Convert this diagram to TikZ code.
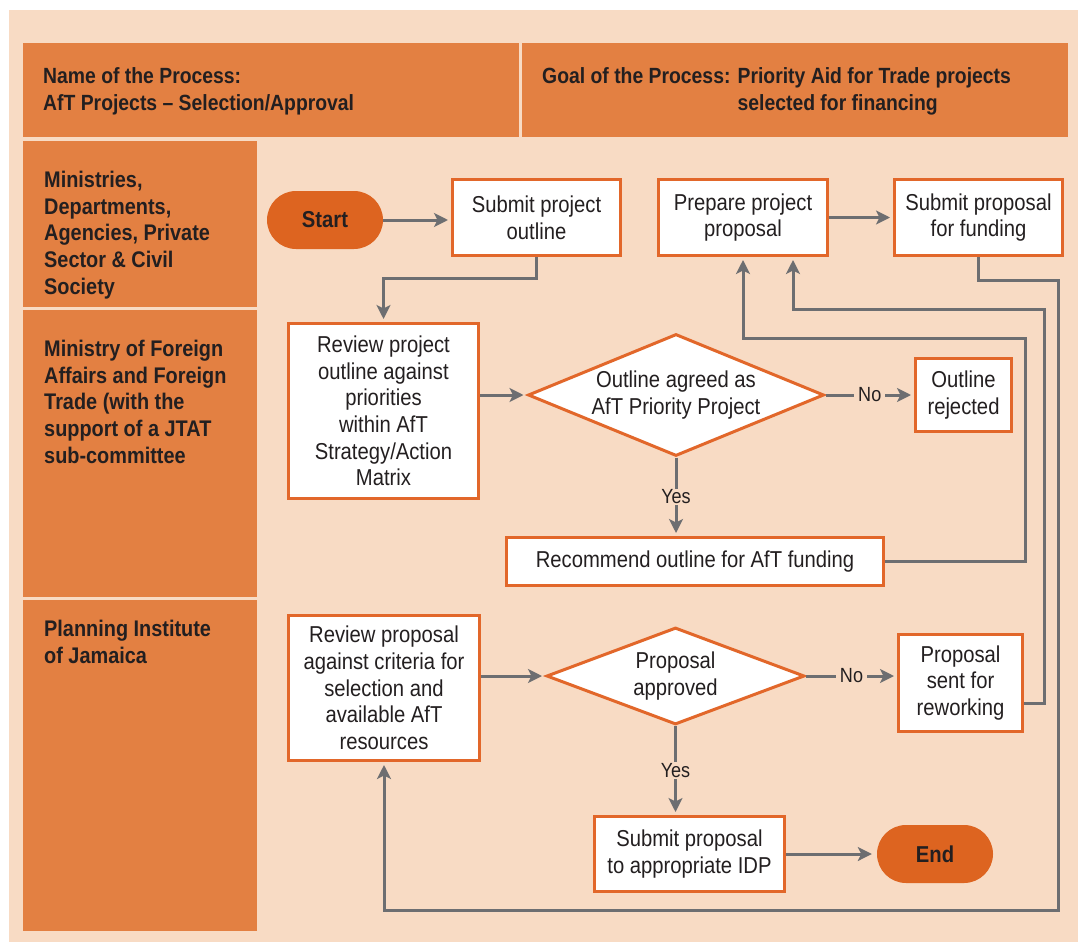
\documentclass[tikz,border=0pt]{standalone}
\usepackage{fontspec}
\setmainfont{Liberation Sans}[FakeStretch=0.88]
\usetikzlibrary{arrows.meta,shapes.geometric,calc}
\definecolor{peach}{HTML}{F8DBC4}
\definecolor{laneorange}{HTML}{E38042}
\definecolor{pillorange}{HTML}{DD6420}
\definecolor{border}{HTML}{E2672A}
\definecolor{linegray}{HTML}{6D6E71}
\definecolor{txt}{HTML}{231F20}
\begin{document}
\begin{tikzpicture}[x=1pt,y=-1pt,
  lane/.style={fill=laneorange, draw=none},
  head/.style={font=\bfseries\fontsize{22}{27}\selectfont, text=txt, align=left, inner sep=0pt},
  lanetext/.style={font=\bfseries\fontsize{22.6}{26.7}\selectfont, text=txt, align=left, inner sep=0pt},
  box/.style={draw=border, line width=3pt, fill=white, align=center, inner sep=0pt,
    font=\fontsize{23}{26.7}\selectfont, text=txt},
  dia/.style={diamond, draw=border, line width=3pt, fill=white, align=center, inner sep=0pt,
    font=\fontsize{23}{26.7}\selectfont, text=txt},
  pill/.style={fill=pillorange, draw=none, rounded corners=29pt, minimum width=116pt,
    minimum height=58pt, font=\bfseries\fontsize{23}{27}\selectfont, text=txt},
  arr/.style={draw=linegray, line width=3pt,
    -{Stealth[length=14pt,width=14pt,inset=3.5pt]}, shorten >=3pt},
  lab/.style={fill=peach, inner xsep=4pt, inner ysep=1pt,
    font=\fontsize{20.5}{24}\selectfont, text=txt}]
\useasboundingbox (0,0) rectangle (1078,942);
\fill[white] (0,0) rectangle (1078,942);
\fill[peach] (9,10) rectangle (1078,942);
% header
\fill[lane] (23,43) rectangle (519,137);
\fill[lane] (522,43) rectangle (1068,137);
\node[head, anchor=north west] (hname) at (43,67) {Name of the Process:\\AfT Projects – Selection/Approval};
\node[head, anchor=base west] (hgoal) at (542,83) {Goal of the Process: \begin{tabular}[t]{@{}l@{}}Priority Aid for Trade projects\\selected for financing\end{tabular}};
% lanes
\fill[lane] (23,141) rectangle (257,307);
\fill[lane] (23,310) rectangle (257,597);
\fill[lane] (23,600) rectangle (257,931);
\node[lanetext, anchor=north west] (l1) at (44,171) {Ministries,\\Departments,\\Agencies, Private\\Sector \& Civil\\Society};
\node[lanetext, anchor=north west] (l2) at (44,340) {Ministry of Foreign\\Affairs and Foreign\\Trade (with the\\support of a JTAT\\sub-committee};
\node[lanetext, anchor=north west] (l3) at (44,620) {Planning Institute\\of Jamaica};
% nodes
\node[pill] (start) at (325,220) {Start};
\node[box, minimum width=168pt, minimum height=76pt] (outline) at (536.5,217.5) {Submit project\\outline};
\node[box, minimum width=169pt, minimum height=76pt] (prepare) at (743,217.5) {Prepare project\\proposal};
\node[box, minimum width=168pt, minimum height=76pt] (funding) at (978.5,217.5) {Submit proposal\\for funding};
\node[box, minimum width=190pt, minimum height=175pt] (review1) at (383.5,411) {Review project\\outline against\\priorities\\within AfT\\Strategy/Action\\Matrix};
\node[dia, minimum width=296pt, minimum height=122pt, aspect=2.43] (dia1) at (676,395) {Outline agreed as\\AfT Priority Project};
\node[box, minimum width=96pt, minimum height=73pt] (rejected) at (963.5,395) {Outline\\rejected};
\node[box, minimum width=377pt, minimum height=48pt] (recommend) at (695,561.5) {Recommend outline for AfT funding};
\node[box, minimum width=191pt, minimum height=145pt] (review2) at (384,688) {Review proposal\\against criteria for\\selection and\\available AfT\\resources};
\node[dia, minimum width=258pt, minimum height=97pt, aspect=2.66] (dia2) at (675.5,676) {Proposal\\approved};
\node[box, minimum width=124pt, minimum height=97pt] (rework) at (960.5,683) {Proposal\\sent for\\reworking};
\node[box, minimum width=190pt, minimum height=75pt] (idp) at (689.5,854) {Submit proposal\\to appropriate IDP};
\node[pill] (end) at (935,854) {End};
% helper coordinates
\coordinate (r1) at (1025,338);
\coordinate (w1) at (1044,309);
\coordinate (f1) at (1058,280);
\coordinate (f2) at (1058,910);
% connectors
\draw[arr] (start.east) -- (start.east -| outline.west);
\draw[arr] (outline.south) -- ++(0,21) -| (review1.north);
\draw[arr] (review1.east |- dia1.west) -- (dia1.west);
\draw[arr] (dia1.east) -- node[lab] {No} (rejected.west);
\draw[arr] (dia1.south) -- node[lab] {Yes} (dia1.south |- recommend.north);
\draw[arr] (recommend.east) -| (r1) -| (prepare.south);
\draw[arr] ([yshift=-20pt]rework.east) -| (w1) -| ([xshift=50pt]prepare.south);
\draw[arr] (prepare.east) -- (funding.west);
\draw[arr] (funding.south) |- (f1) -- (f2) -| (review2.south);
\draw[arr] (review2.east |- dia2.west) -- (dia2.west);
\draw[arr] (dia2.east) -- node[lab] {No} (dia2.east -| rework.west);
\draw[arr] (dia2.south) -- node[lab] {Yes} (dia2.south |- idp.north);
\draw[arr, shorten >=5pt] (idp.east) -- (end.west);
\end{tikzpicture}
\end{document}
